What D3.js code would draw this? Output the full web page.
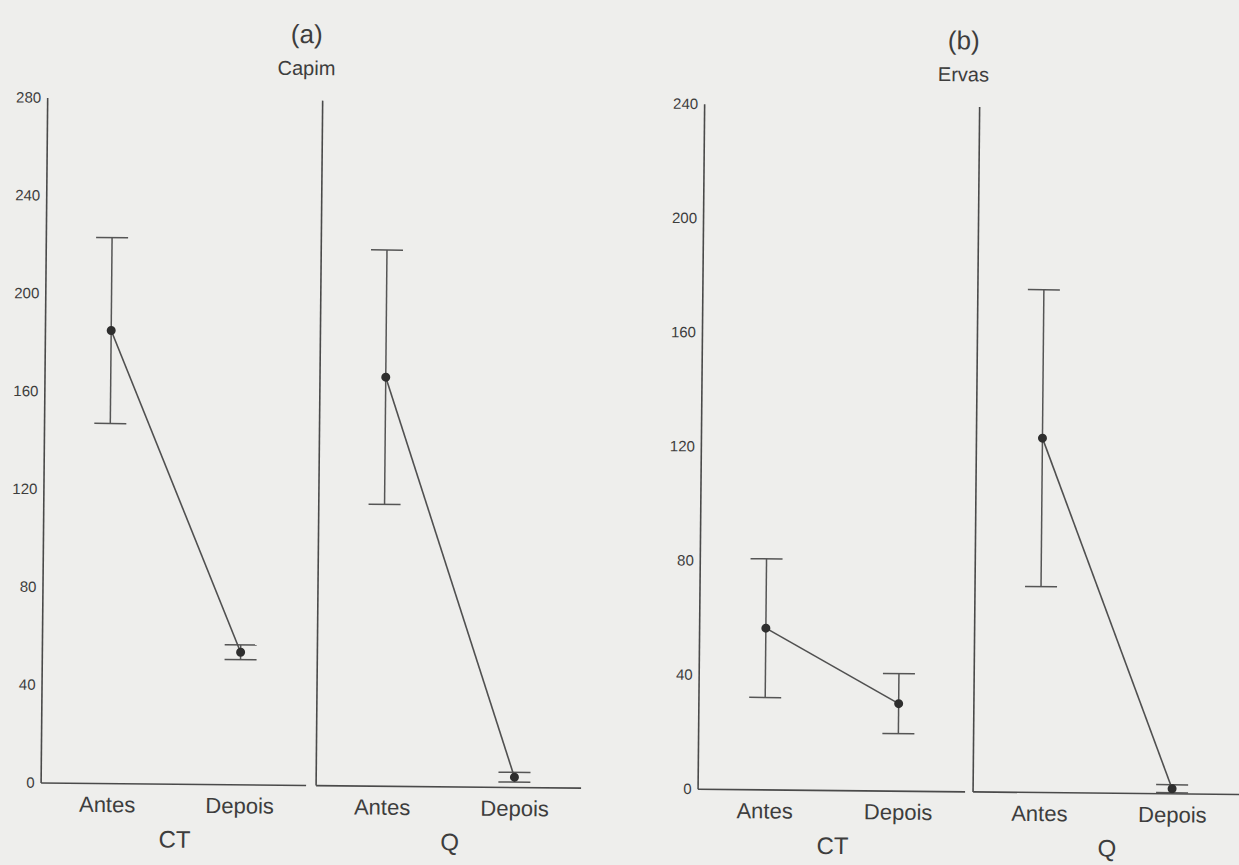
<!DOCTYPE html>
<html>
<head>
<meta charset="utf-8">
<script src="https://cdn.jsdelivr.net/npm/d3@7"></script>
<style>
  html, body { margin: 0; padding: 0; background: #eeeeec; }
  svg { display: block; }
  text { font-family: "Liberation Sans", Arial, Helvetica, sans-serif; fill: #3d3d3d; }
</style>
</head>
<body>
<script>
// ---------- data ----------
const categories = ["Antes", "Depois"];
const groups = ["CT", "Q"];
const panelLetters = ["(a)", "(b)"];
const panelTitles = ["Capim", "Ervas"];

const capimTicks = [0, 40, 80, 120, 160, 200, 240, 280];
const ervasTicks = [0, 40, 80, 120, 160, 200, 240];

const capimCTMean = [185, 54];
const capimCTErr  = [38, 3];
const capimQMean  = [167, 4];
const capimQErr   = [52, 2];

const ervasCTMean = [56.5, 30.5];
const ervasCTErr  = [24.3, 10.5];
const ervasQMean  = [124, 1.6];
const ervasQErr   = [52, 1.4];

// ---------- layout ----------
const W = 1239, H = 865;
const yTop = 103, yBottom = 788;

const svg = d3.select("body").append("svg").attr("width", W).attr("height", H);
svg.append("rect").attr("width", W).attr("height", H).attr("fill", "#eeeeec");

// scanned page is slightly rotated
const root = svg.append("g").attr("transform", "rotate(0.55,620,432)");

const capimY = d3.scaleLinear().domain([0, 280]).range([yBottom, yTop]);
const ervasY = d3.scaleLinear().domain([0, 240]).range([yBottom, yTop]);

const subpanels = [
  { x0: 44,  x1: 309,  y: capimY, ticks: capimTicks, mean: capimCTMean, err: capimCTErr, group: groups[0], labels: true },
  { x0: 319, x1: 584,  y: capimY, ticks: capimTicks, mean: capimQMean,  err: capimQErr,  group: groups[1], labels: false },
  { x0: 701, x1: 968,  y: ervasY, ticks: ervasTicks, mean: ervasCTMean, err: ervasCTErr, group: groups[0], labels: true },
  { x0: 976, x1: 1242, y: ervasY, ticks: ervasTicks, mean: ervasQMean,  err: ervasQErr,  group: groups[1], labels: false }
];

const axisColor = "#4a4a4a";
const lineColor = "#505050";

subpanels.forEach(p => {
  const g = root.append("g");
  const x = d3.scalePoint().domain(categories).range([p.x0, p.x1]).padding(0.5);
  const y = p.y;

  // left axis
  const ya = g.append("g")
    .attr("transform", `translate(${p.x0},0)`)
    .call(d3.axisLeft(y).tickValues(p.ticks).tickSize(0).tickSizeOuter(0).tickPadding(6)
      .tickFormat(p.labels ? d3.format("d") : () => ""));
  ya.select(".domain").attr("stroke", axisColor).attr("stroke-width", 1.6);
  ya.selectAll("text").attr("font-size", 15).attr("fill", "#3d3d3d")
    .style("font-family", "'Liberation Sans', Arial, sans-serif");

  // bottom axis
  const xa = g.append("g")
    .attr("transform", `translate(0,${yBottom})`)
    .call(d3.axisBottom(x).tickSize(0).tickSizeOuter(0));
  xa.select(".domain").attr("stroke", axisColor).attr("stroke-width", 1.6);
  xa.selectAll("text").attr("font-size", 22).attr("y", 29).attr("dy", null).attr("fill", "#3d3d3d")
    .style("font-family", "'Liberation Sans', Arial, sans-serif");

  // group label
  g.append("text")
    .attr("x", (p.x0 + p.x1) / 2 + 2).attr("y", yBottom + 64)
    .attr("text-anchor", "middle").attr("font-size", 24)
    .text(p.group);

  const pts = categories.map((c, i) => ({ c, m: p.mean[i], e: p.err[i] }));

  // error bars
  const eb = g.append("g").attr("stroke", "#555").attr("stroke-width", 1.5).attr("fill", "none");
  pts.forEach(d => {
    const cx = x(d.c);
    eb.append("line").attr("x1", cx).attr("x2", cx).attr("y1", y(d.m - d.e)).attr("y2", y(d.m + d.e));
    eb.append("line").attr("x1", cx - 16).attr("x2", cx + 16).attr("y1", y(d.m + d.e)).attr("y2", y(d.m + d.e));
    eb.append("line").attr("x1", cx - 16).attr("x2", cx + 16).attr("y1", y(d.m - d.e)).attr("y2", y(d.m - d.e));
  });

  // connecting line
  g.append("path")
    .datum(pts)
    .attr("fill", "none").attr("stroke", lineColor).attr("stroke-width", 1.6)
    .attr("d", d3.line().x(d => x(d.c)).y(d => y(d.m)));

  // points
  g.selectAll("circle.pt").data(pts).enter().append("circle")
    .attr("class", "pt")
    .attr("cx", d => x(d.c)).attr("cy", d => y(d.m)).attr("r", 4.5)
    .attr("fill", "#2e2e2e");
});

// panel titles
const titlePos = [303, 960];
titlePos.forEach((tx, i) => {
  root.append("text").attr("x", tx).attr("y", 46).attr("text-anchor", "middle")
    .attr("font-size", 26).text(panelLetters[i]);
  root.append("text").attr("x", tx).attr("y", 78).attr("text-anchor", "middle")
    .attr("font-size", 20).text(panelTitles[i]);
});
</script>
</body>
</html>
